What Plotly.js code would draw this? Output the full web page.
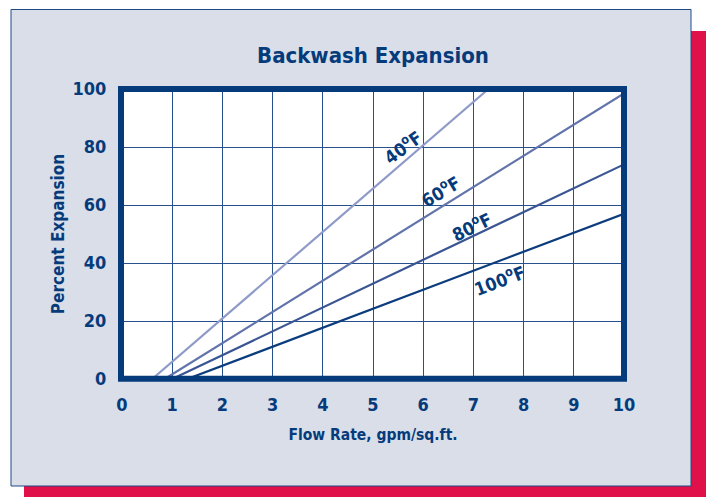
<!DOCTYPE html>
<html>
<head>
<meta charset="utf-8">
<script src="https://cdn.plot.ly/plotly-3.0.1.min.js"></script>
<style>html,body{margin:0;padding:0;background:#fff;}#chart{width:706px;height:497px;}</style>
</head>
<body>
<div id="chart"></div>
<script>
// Data (start and end of each straight line)
const seriesNames = ['40°F', '60°F', '80°F', '100°F'];
const flow40 = [0.6, 7.3];
const exp40 = [0, 100];
const flow60 = [0.85, 10];
const exp60 = [0, 98.5];
const flow80 = [1.0, 10];
const exp80 = [0, 74];
const flow100 = [1.3, 10];
const exp100 = [0, 57];
const labelText = ['40<sup>o</sup>F', '60<sup>o</sup>F', '80<sup>o</sup>F', '100<sup>o</sup>F'];
const labelX = [5.58, 6.34, 6.97, 7.51];
const labelY = [80, 64.7, 52.6, 34.3];
const labelAngle = [-36, -31, -26, -21];
const xTicks = [0,1,2,3,4,5,6,7,8,9,10];
const yTicks = [0,20,40,60,80,100];

const NAVY = '#063b7b';
const FONT = '"Liberation Sans Narrow", "Arial Narrow", "DejaVu Sans Condensed", sans-serif';
const lineColors = ['#8e9bc8', '#6173ab', '#3a5593', '#0b3c7c'];

const xs = [flow40, flow60, flow80, flow100];
const ys = [exp40, exp60, exp80, exp100];
const traces = xs.map((x, i) => ({
  x: x, y: ys[i], type: 'scatter', mode: 'lines', name: seriesNames[i],
  line: {color: lineColors[i], width: 2.2}, hoverinfo: 'skip'
}));

// paper-coordinate helpers (plot area: 122..624 px, 89..379 px)
const L = 122, R = 82, T = 89, B = 118, W = 706, H = 497;
const pw = W - L - R, ph = H - T - B;
const px = v => (v - L) / pw;
const py = v => (H - B - v) / ph;

const layout = {
  width: W, height: H,
  margin: {l: L, r: R, t: T, b: B, pad: 0},
  paper_bgcolor: '#ffffff',
  plot_bgcolor: 'rgba(0,0,0,0)',
  showlegend: false,
  font: {family: FONT, color: NAVY, weight: 'bold'},
  title: {text: 'Backwash Expansion', font: {family: FONT, size: 22, color: NAVY, weight: 'bold'},
          x: 0.5, xref: 'paper', xanchor: 'center', y: 1 - 55 / H, yref: 'container', yanchor: 'middle'},
  xaxis: {range: [0, 10], tickvals: xTicks, showgrid: true, gridcolor: '#27508d', gridwidth: 1,
          zeroline: false, showline: false, ticks: 'outside', ticklen: 9, tickcolor: 'rgba(0,0,0,0)',
          tickfont: {family: FONT, size: 18, color: NAVY, weight: 'bold'}, fixedrange: true,
          title: {text: 'Flow Rate, gpm/sq.ft.', font: {family: FONT, size: 15.5, color: NAVY, weight: 'bold'}, standoff: 15}},
  yaxis: {range: [0, 100], tickvals: yTicks, showgrid: true, gridcolor: '#27508d', gridwidth: 1,
          zeroline: false, showline: false, ticks: 'outside', ticklen: 11, tickcolor: 'rgba(0,0,0,0)',
          tickfont: {family: FONT, size: 18, color: NAVY, weight: 'bold'}, fixedrange: true,
          title: {text: 'Percent Expansion', font: {family: FONT, size: 17, color: NAVY, weight: 'bold'}, standoff: 3}},
  shapes: [
    {type: 'rect', xref: 'paper', yref: 'paper', layer: 'below', x0: px(24), x1: px(706), y0: py(31), y1: py(497),
     fillcolor: '#e0104a', line: {width: 0}},
    {type: 'rect', xref: 'paper', yref: 'paper', layer: 'below', x0: px(11), x1: px(691), y0: py(9.5), y1: py(486),
     fillcolor: '#d9dee9', line: {color: '#1f4a86', width: 1}},
    {type: 'rect', xref: 'paper', yref: 'paper', layer: 'below', x0: 0, x1: 1, y0: 0, y1: 1,
     fillcolor: '#ffffff', line: {width: 0}},
    {type: 'rect', xref: 'paper', yref: 'paper', layer: 'above', x0: px(121), x1: px(624), y0: py(378.7), y1: py(89),
     fillcolor: 'rgba(0,0,0,0)', line: {color: NAVY, width: 6}}
  ],
  annotations: labelText.map((t, i) => ({
    x: labelX[i], y: labelY[i], xref: 'x', yref: 'y', text: t, showarrow: false,
    textangle: labelAngle[i], font: {family: FONT, size: 18, color: NAVY, weight: 'bold'}
  }))
};

Plotly.newPlot('chart', traces, layout, {displayModeBar: false, staticPlot: true});
</script>
</body>
</html>
